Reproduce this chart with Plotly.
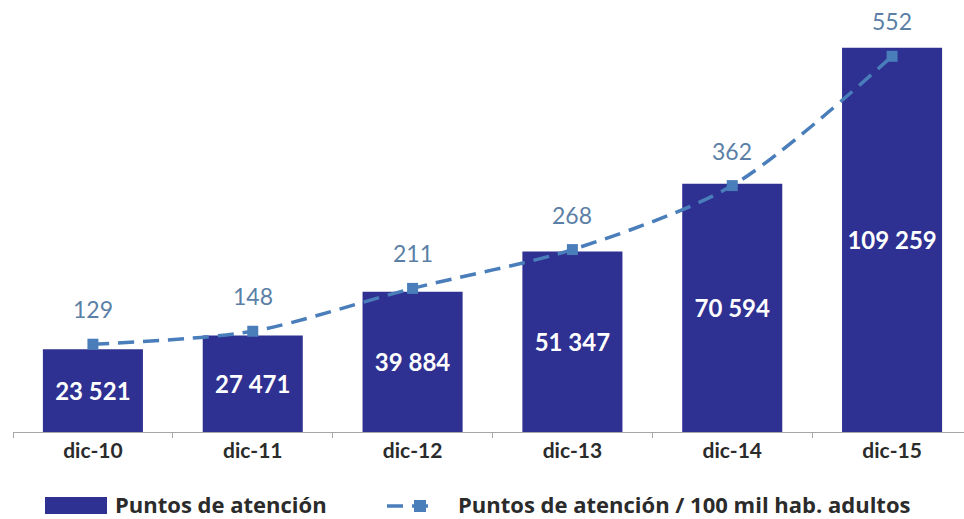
import plotly.graph_objects as go

categories = ["dic-10", "dic-11", "dic-12", "dic-13", "dic-14", "dic-15"]
puntos = [23521, 27471, 39884, 51347, 70594, 109259]
por_100mil = [129, 148, 211, 268, 362, 552]

bar_name = "Puntos de atención"
line_name = "Puntos de atención / 100 mil hab. adultos"

FONT = "Lato"
LEGEND_FONT = "Open Sans"
BAR_COLOR = "#2E3092"
LINE_COLOR = "#4A7EBB"
LABEL_COLOR = "#5B7FA6"
TEXT_COLOR = "#2B2B2B"

W, H = 964, 519
ML, MR, MT, MB = 13, 0, 10, 87
PW, PH = W - ML - MR, H - MT - MB


def px(x):
    return (x - ML) / PW


def py(y):
    return (H - MB - y) / PH


bar_text = [f"{v:,}".replace(",", " ") for v in puntos]

fig = go.Figure()
fig.add_trace(go.Bar(
    x=categories, y=puntos, name=bar_name, showlegend=False,
    marker=dict(color=BAR_COLOR, line=dict(width=0)),
    text=bar_text, textposition="inside", insidetextanchor="middle",
    textfont=dict(family=FONT, size=24, color="white", weight="bold"),
    textangle=0, hoverinfo="skip",
))
fig.add_trace(go.Scatter(
    x=categories, y=por_100mil, name=line_name, yaxis="y2", showlegend=False,
    mode="lines+markers",
    line=dict(color=LINE_COLOR, width=3.5, dash="16px,9px", shape="spline", smoothing=0.8),
    marker=dict(symbol="square", size=11, color=LINE_COLOR), hoverinfo="skip",
))

for c, v in zip(categories, por_100mil):
    fig.add_annotation(x=c, y=v, yref="y2", text=str(v), showarrow=False,
                       yshift=35, font=dict(family=FONT, size=23, color=LABEL_COLOR))

# Legend (drawn manually to reproduce the wide swatch)
fig.add_shape(type="rect", xref="paper", yref="paper",
              x0=px(45), x1=px(107), y0=py(514), y1=py(497),
              fillcolor=BAR_COLOR, line=dict(width=0))
fig.add_annotation(xref="paper", yref="paper", x=px(113), y=py(504), xanchor="left",
                   yanchor="middle", text=bar_name, showarrow=False,
                   font=dict(family=LEGEND_FONT, size=22, color=TEXT_COLOR, weight="bold"))
fig.add_shape(type="line", xref="paper", yref="paper",
              x0=px(387), x1=px(437), y0=py(506), y1=py(506),
              line=dict(color=LINE_COLOR, width=3.5, dash="16px,9px"))
fig.add_shape(type="rect", xref="paper", yref="paper",
              x0=px(414), x1=px(426), y0=py(512), y1=py(500),
              fillcolor=LINE_COLOR, line=dict(width=0))
fig.add_annotation(xref="paper", yref="paper", x=px(456), y=py(504), xanchor="left",
                   yanchor="middle", text=line_name, showarrow=False,
                   font=dict(family=LEGEND_FONT, size=22, color=TEXT_COLOR, weight="bold"))

fig.update_layout(
    width=W, height=H,
    margin=dict(l=ML, r=MR, t=MT, b=MB, autoexpand=False),
    paper_bgcolor="white", plot_bgcolor="white",
    bargap=0.374,
    showlegend=False,
    hovermode=False,
    xaxis=dict(range=[-0.5, 5.45], showline=True, linecolor="#A6A6A6", linewidth=1,
               ticks="outside", tickson="boundaries", ticklen=5, tickcolor="#A6A6A6",
               tickfont=dict(family=FONT, size=21, color=TEXT_COLOR, weight="bold"),
               showgrid=False, zeroline=False, automargin=False, fixedrange=True),
    yaxis=dict(range=[0, 120000], visible=False, showgrid=False, zeroline=False,
               automargin=False, fixedrange=True),
    yaxis2=dict(range=[0, 620], overlaying="y", side="right", visible=False,
                showgrid=False, zeroline=False, automargin=False, fixedrange=True),
)

fig.write_html("out.html", config={"displayModeBar": False, "staticPlot": True},
               post_script="document.body.style.margin='0';document.body.style.overflow='hidden';")
